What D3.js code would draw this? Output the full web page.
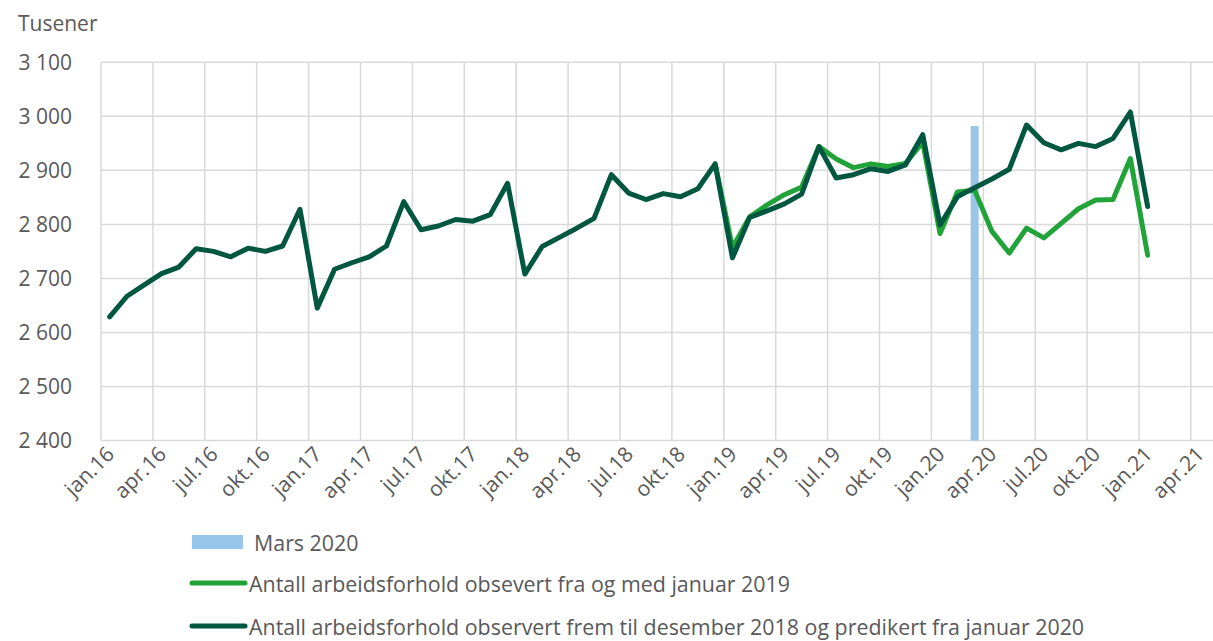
<!DOCTYPE html>
<html lang="no">
<head>
<meta charset="utf-8">
<script src="https://cdn.jsdelivr.net/npm/d3@7"></script>
<style>
  html, body { margin: 0; padding: 0; background: #ffffff; }
  svg { display: block; font-family: "Open Sans", "Noto Sans", sans-serif; }
</style>
</head>
<body>
<svg id="chart" width="1213" height="641"></svg>
<script>
// Monthly categories, January 2016 – January 2021 (index 0 = jan.16)
const monthCount = 61;

// Number of employments (thousands), observed to Dec 2018 and predicted from Jan 2020
const predictedSeries = [
  2629, 2667, 2688, 2709, 2721, 2755, 2750, 2740, 2756, 2750, 2760, 2828,
  2645, 2717, 2729, 2740, 2760, 2842, 2790, 2797, 2809, 2806, 2818, 2876,
  2708, 2759, 2776, 2793, 2811, 2892, 2858, 2846, 2857, 2851, 2866, 2912,
  2738, 2813, 2825, 2838, 2856, 2944, 2886, 2892, 2903, 2898, 2910, 2966,
  2799, 2851, 2868, 2884, 2902, 2984, 2951, 2938, 2950, 2944, 2959, 3008,
  2833
];

// Number of employments (thousands), observed from January 2019 (joins at Dec 2018)
const observedSeries = [
  null, null, null, null, null, null, null, null, null, null, null, null,
  null, null, null, null, null, null, null, null, null, null, null, null,
  null, null, null, null, null, null, null, null, null, null, null, 2912,
  2757, 2814, 2836, 2855, 2869, 2944, 2921, 2905, 2912, 2907, 2913, 2952,
  2783, 2860, 2863, 2787, 2747, 2793, 2775, 2802, 2829, 2845, 2846, 2922,
  2743
];

// Highlight bar for March 2020
const highlightMonth = 50;
const highlightValue = 2982;

// Axis ticks
const yTicks = [2400, 2500, 2600, 2700, 2800, 2900, 3000, 3100];
const xTickLabels = [
  "jan.16", "apr.16", "jul.16", "okt.16",
  "jan.17", "apr.17", "jul.17", "okt.17",
  "jan.18", "apr.18", "jul.18", "okt.18",
  "jan.19", "apr.19", "jul.19", "okt.19",
  "jan.20", "apr.20", "jul.20", "okt.20",
  "jan.21", "apr.21"
];

const legendLabels = [
  "Mars 2020",
  "Antall arbeidsforhold obsevert fra og med januar 2019",
  "Antall arbeidsforhold observert frem til desember 2018 og predikert fra januar 2020"
];

const colors = {
  bar: "#97c6ea",
  observed: "#22a33a",
  predicted: "#00573f",
  grid: "#d9d9d9",
  text: "#595959"
};

const fontSize = "21px";
const legendFontSize = "21.4px";

const svg = d3.select("#chart");
const W = 1213;
const plot = { left: 101, top: 62.3, bottom: 440.5, monthW: 17.3 };

// x: month index (0 = start of jan.16) on a continuous axis, marks at month centres
const x = d3.scaleLinear()
  .domain([0, 66])
  .range([plot.left, plot.left + 66 * plot.monthW]);

const y = d3.scaleLinear()
  .domain([2400, 3100])
  .range([plot.bottom, plot.top]);

const fmt = d3.formatLocale({ decimal: ",", thousands: "\u00a0", grouping: [3], currency: ["", ""] }).format(",d");

// Horizontal grid
svg.append("g")
  .selectAll("line")
  .data(yTicks)
  .join("line")
  .attr("x1", plot.left).attr("x2", W)
  .attr("y1", d => y(d)).attr("y2", d => y(d))
  .attr("stroke", colors.grid).attr("stroke-width", 1.5);

// Vertical grid (quarterly)
const xTickIdx = xTickLabels.map((_, i) => i * 3);
svg.append("g")
  .selectAll("line")
  .data(xTickIdx)
  .join("line")
  .attr("x1", d => x(d)).attr("x2", d => x(d))
  .attr("y1", plot.top).attr("y2", plot.bottom)
  .attr("stroke", colors.grid).attr("stroke-width", 1.5);

// Y axis labels
const yAxis = d3.axisLeft(y).tickValues(yTicks).tickFormat(fmt).tickSize(0).tickPadding(0);
const gy = svg.append("g").attr("transform", `translate(${plot.left - 29},0)`).call(yAxis);
gy.select(".domain").remove();
gy.selectAll("text")
  .attr("fill", colors.text)
  .style("font-size", fontSize)
  .style("font-family", "'Open Sans', sans-serif");

// Unit label
svg.append("text")
  .attr("x", 18).attr("y", 31)
  .attr("fill", colors.text)
  .style("font-size", fontSize)
  .text("Tusener");

// X axis labels, rotated
const xAxis = d3.axisBottom(x).tickValues(xTickIdx).tickFormat((d, i) => xTickLabels[i]).tickSize(0).tickPadding(0);
const gx = svg.append("g").attr("transform", `translate(0,${plot.bottom})`).call(xAxis);
gx.select(".domain").remove();
gx.selectAll("text")
  .attr("fill", colors.text)
  .style("font-size", fontSize)
  .style("font-family", "'Open Sans', sans-serif")
  .attr("text-anchor", "end")
  .attr("dy", null)
  .attr("y", 0)
  .attr("transform", "translate(14,15) rotate(-45)");

// March 2020 bar
const barW = plot.monthW * 0.46;
svg.append("rect")
  .attr("x", x(highlightMonth + 0.5) - barW / 2)
  .attr("width", barW)
  .attr("y", y(highlightValue))
  .attr("height", y(2400) - y(highlightValue))
  .attr("fill", colors.bar);

// Series lines
const line = d3.line()
  .defined(d => d.v != null)
  .x(d => x(d.i + 0.5))
  .y(d => y(d.v));

const observedPts = observedSeries.map((v, i) => ({ i, v }));
const predictedPts = predictedSeries.map((v, i) => ({ i, v }));

svg.append("path")
  .datum(observedPts)
  .attr("d", line)
  .attr("fill", "none")
  .attr("stroke", colors.observed)
  .attr("stroke-width", 5)
  .attr("stroke-linejoin", "round")
  .attr("stroke-linecap", "round");

svg.append("path")
  .datum(predictedPts)
  .attr("d", line)
  .attr("fill", "none")
  .attr("stroke", colors.predicted)
  .attr("stroke-width", 5)
  .attr("stroke-linejoin", "round")
  .attr("stroke-linecap", "round");

// Legend
const legend = svg.append("g").attr("font-size", legendFontSize).attr("fill", colors.text);

legend.append("rect")
  .attr("x", 192).attr("y", 535).attr("width", 51).attr("height", 14)
  .attr("fill", colors.bar);
legend.append("text")
  .attr("x", 254).attr("y", 542).attr("dominant-baseline", "central")
  .text(legendLabels[0]);

const legendLines = [
  { y: 583, color: colors.observed, label: legendLabels[1] },
  { y: 626, color: colors.predicted, label: legendLabels[2] }
];
legendLines.forEach(item => {
  legend.append("line")
    .attr("x1", 192).attr("x2", 245)
    .attr("y1", item.y).attr("y2", item.y)
    .attr("stroke", item.color).attr("stroke-width", 5)
    .attr("stroke-linecap", "round");
  legend.append("text")
    .attr("x", 249).attr("y", item.y).attr("dominant-baseline", "central")
    .text(item.label);
});
</script>
</body>
</html>
